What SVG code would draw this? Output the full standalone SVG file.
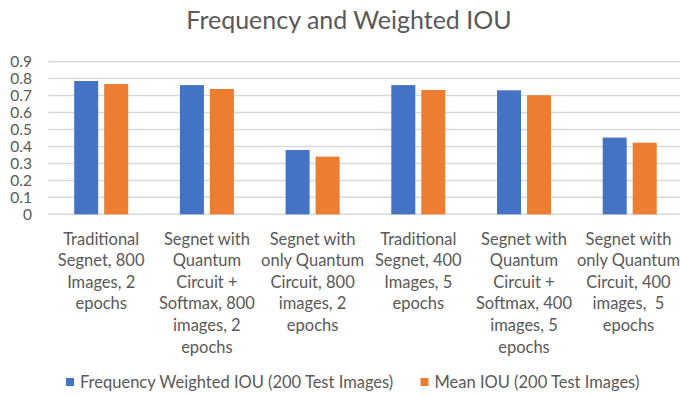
<svg xmlns="http://www.w3.org/2000/svg" width="680" height="396" viewBox="0 0 680 396">
  <style>
    text { font-family: Lato, "Open Sans", "Liberation Sans", sans-serif; fill: #595959; }
    .title { font-size: 25px; text-anchor: middle; }
    .tick { font-size: 15.5px; text-anchor: end; }
    .cat { font-size: 16.5px; text-anchor: middle; }
    .leg { font-size: 16.5px; }
    .grid line { stroke: #d9d9d9; stroke-width: 1.5; }
    .s1 { fill: #4472c4; }
    .s2 { fill: #ed7d31; }
  </style>
  <rect width="680" height="396" fill="#ffffff"/>

  <text class="title" x="349" y="29">Frequency and Weighted IOU</text>

  <!-- value axis gridlines, 0 to 0.9 in steps of 0.1 -->
  <g class="grid">
    <line x1="48.3" y1="214.3" x2="680" y2="214.3"/>
    <line x1="48.3" y1="197.3" x2="680" y2="197.3"/>
    <line x1="48.3" y1="180.4" x2="680" y2="180.4"/>
    <line x1="48.3" y1="163.4" x2="680" y2="163.4"/>
    <line x1="48.3" y1="146.5" x2="680" y2="146.5"/>
    <line x1="48.3" y1="129.5" x2="680" y2="129.5"/>
    <line x1="48.3" y1="112.5" x2="680" y2="112.5"/>
    <line x1="48.3" y1="95.6" x2="680" y2="95.6"/>
    <line x1="48.3" y1="78.6" x2="680" y2="78.6"/>
    <line x1="48.3" y1="61.7" x2="680" y2="61.7"/>
  </g>

  <g id="axis-labels">
    <text class="tick" x="32" y="219.6">0</text>
    <text class="tick" x="32" y="202.6">0.1</text>
    <text class="tick" x="32" y="185.7">0.2</text>
    <text class="tick" x="32" y="168.7">0.3</text>
    <text class="tick" x="32" y="151.8">0.4</text>
    <text class="tick" x="32" y="134.8">0.5</text>
    <text class="tick" x="32" y="117.8">0.6</text>
    <text class="tick" x="32" y="100.9">0.7</text>
    <text class="tick" x="32" y="83.9">0.8</text>
    <text class="tick" x="32" y="67">0.9</text>
  </g>

  <!-- one group per category: blue = frequency weighted IOU, orange = mean IOU -->
  <g id="cat1">
    <rect class="s1" x="74.2" y="81" width="24" height="133.3"/>
    <rect class="s2" x="104.2" y="84" width="24" height="130.3"/>
    <text class="cat" x="101.2" y="244.5">Traditional<tspan x="101.2" dy="21.6">Segnet, 800</tspan><tspan x="101.2" dy="21.6">Images, 2</tspan><tspan x="101.2" dy="21.6">epochs</tspan></text>
  </g>
  <g id="cat2">
    <rect class="s1" x="179.9" y="85.1" width="24" height="129.2"/>
    <rect class="s2" x="209.9" y="89" width="24" height="125.3"/>
    <text class="cat" x="206.9" y="244.5">Segnet with<tspan x="206.9" dy="21.6">Quantum</tspan><tspan x="206.9" dy="21.6">Circuit +</tspan><tspan x="206.9" dy="21.6">Softmax, 800</tspan><tspan x="206.9" dy="21.6">images, 2</tspan><tspan x="206.9" dy="21.6">epochs</tspan></text>
  </g>
  <g id="cat3">
    <rect class="s1" x="285.6" y="150" width="24" height="64.3"/>
    <rect class="s2" x="315.6" y="156.6" width="24" height="57.7"/>
    <text class="cat" x="312.6" y="244.5">Segnet with<tspan x="312.6" dy="21.6">only Quantum</tspan><tspan x="312.6" dy="21.6">Circuit, 800</tspan><tspan x="312.6" dy="21.6">images, 2</tspan><tspan x="312.6" dy="21.6">epochs</tspan></text>
  </g>
  <g id="cat4">
    <rect class="s1" x="391.3" y="85.1" width="24" height="129.2"/>
    <rect class="s2" x="421.3" y="90" width="24" height="124.3"/>
    <text class="cat" x="418.3" y="244.5">Traditional<tspan x="418.3" dy="21.6">Segnet, 400</tspan><tspan x="418.3" dy="21.6">Images, 5</tspan><tspan x="418.3" dy="21.6">epochs</tspan></text>
  </g>
  <g id="cat5">
    <rect class="s1" x="497" y="90.3" width="24" height="124"/>
    <rect class="s2" x="527" y="95.2" width="24" height="119.1"/>
    <text class="cat" x="524" y="244.5">Segnet with<tspan x="524" dy="21.6">Quantum</tspan><tspan x="524" dy="21.6">Circuit +</tspan><tspan x="524" dy="21.6">Softmax, 400</tspan><tspan x="524" dy="21.6">images, 5</tspan><tspan x="524" dy="21.6">epochs</tspan></text>
  </g>
  <g id="cat6">
    <rect class="s1" x="602.7" y="137.6" width="24" height="76.7"/>
    <rect class="s2" x="632.7" y="142.7" width="24" height="71.6"/>
    <text class="cat" x="628.5" y="244.5" xml:space="preserve">Segnet with<tspan x="628.5" dy="21.6">only Quantum</tspan><tspan x="628.5" dy="21.6">Circuit, 400</tspan><tspan x="628.5" dy="21.6">images,  5</tspan><tspan x="628.5" dy="21.6">epochs</tspan></text>
  </g>

  <g id="legend">
    <rect class="s1" x="66" y="378" width="8" height="8"/>
    <text class="leg" x="80" y="388">Frequency Weighted IOU (200 Test Images)</text>
    <rect class="s2" x="420.5" y="378" width="8" height="8"/>
    <text class="leg" x="434.5" y="388">Mean IOU (200 Test Images)</text>
  </g>
</svg>
